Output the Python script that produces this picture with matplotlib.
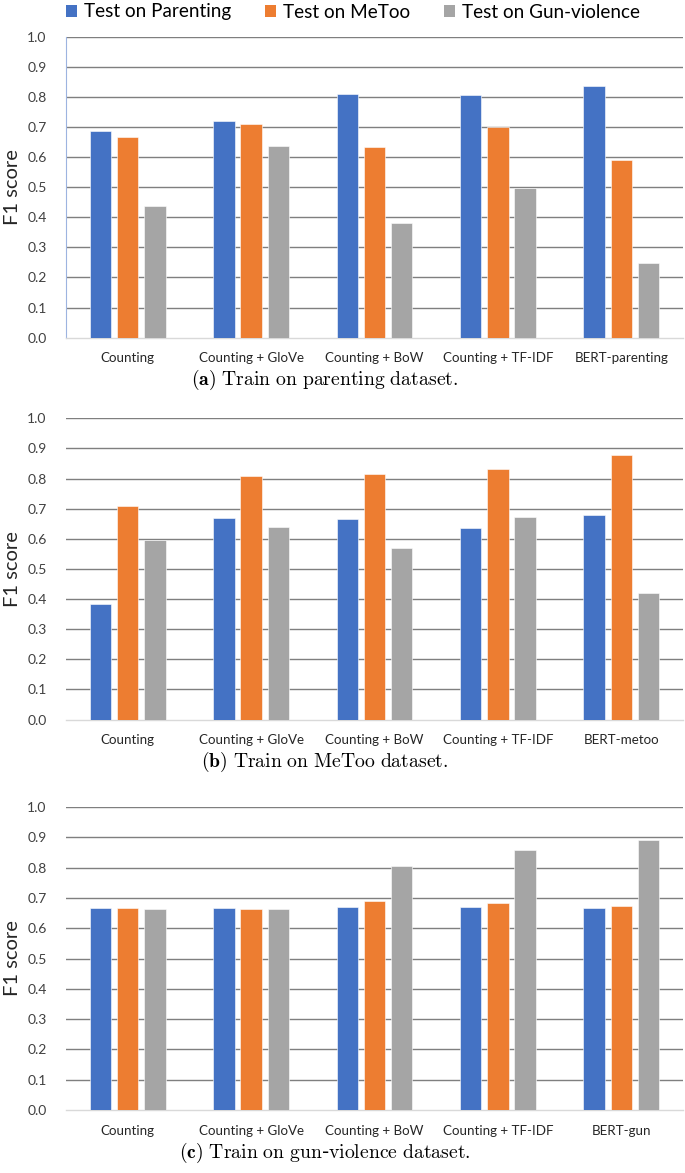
import matplotlib
matplotlib.use("Agg")
import matplotlib.pyplot as plt
import numpy as np
from matplotlib.patches import Patch

plt.rcParams['mathtext.fontset'] = 'cm'

categories_a = ["Counting", "Counting + GloVe", "Counting + BoW", "Counting + TF-IDF", "BERT-parenting"]
categories_b = ["Counting", "Counting + GloVe", "Counting + BoW", "Counting + TF-IDF", "BERT-metoo"]
categories_c = ["Counting", "Counting + GloVe", "Counting + BoW", "Counting + TF-IDF", "BERT-gun"]

series_names = ["Test on Parenting", "Test on MeToo", "Test on Gun-violence"]

# Panel (a): train on parenting
a_parenting = [0.688, 0.721, 0.809, 0.806, 0.836]
a_metoo = [0.665, 0.710, 0.635, 0.699, 0.590]
a_gun = [0.438, 0.638, 0.382, 0.498, 0.248]

# Panel (b): train on MeToo
b_parenting = [0.383, 0.670, 0.665, 0.637, 0.678]
b_metoo = [0.709, 0.807, 0.816, 0.833, 0.879]
b_gun = [0.596, 0.640, 0.569, 0.674, 0.421]

# Panel (c): train on gun-violence
c_parenting = [0.666, 0.666, 0.671, 0.669, 0.668]
c_metoo = [0.666, 0.665, 0.690, 0.682, 0.673]
c_gun = [0.665, 0.665, 0.806, 0.858, 0.892]

captions = [r"$\mathbf{(a)}\ \mathrm{Train\ on\ parenting\ dataset.}$",
            r"$\mathbf{(b)}\ \mathrm{Train\ on\ MeToo\ dataset.}$",
            r"$\mathbf{(c)}\ \mathrm{Train\ on\ gun}$-$\mathrm{violence\ dataset.}$"]

yticks = [0.0, 0.1, 0.2, 0.3, 0.4, 0.5, 0.6, 0.7, 0.8, 0.9, 1.0]
colors = ["#4472C4", "#ED7D31", "#A5A5A5"]

W, H = 685, 1173
fig = plt.figure(figsize=(W / 100, H / 100), dpi=100)

panels = [
    (categories_a, [a_parenting, a_metoo, a_gun], 36.6, 337.7, 380),
    (categories_b, [b_parenting, b_metoo, b_gun], 418.3, 719.6, 762),
    (categories_c, [c_parenting, c_metoo, c_gun], 807.0, 1110.0, 1153),
]

left_px, right_px = 66, 683
bw = 0.173
pitch = 0.221
font = "Lato"

for idx, (cats, series, top_px, bot_px, cap_px) in enumerate(panels):
    ax = fig.add_axes([left_px / W, 1 - bot_px / H, (right_px - left_px) / W, (bot_px - top_px) / H])
    x = np.arange(len(cats))
    for k, (vals, col) in enumerate(zip(series, colors)):
        ax.bar(x + (k - 1) * pitch, vals, width=bw, color=col, edgecolor="white",
               linewidth=0.4, zorder=3, label=series_names[k])
    ax.set_xlim(-0.5, len(cats) - 0.5)
    ax.set_ylim(0, 1.0)
    ax.set_yticks(yticks)
    ax.set_yticklabels([f"{t:.1f}" for t in yticks], fontfamily=font, fontsize=10, color="#404040")
    ax.set_xticks(x)
    ax.set_xticklabels(cats, fontfamily=font, fontsize=9.6, color="#262626")
    ax.tick_params(axis="both", length=0)
    ax.tick_params(axis="y", pad=14)
    ax.tick_params(axis="x", pad=10.5)
    for t in yticks[1:]:
        ax.axhline(t, color="#7f7f7f", lw=1.0, zorder=1)
    for s in ["top", "right", "left"]:
        ax.spines[s].set_visible(False)
    ax.spines["bottom"].set_color("#d9d9d9")
    ax.spines["bottom"].set_linewidth(1.0)
    if idx == 0:
        ax.spines["left"].set_visible(True)
        ax.spines["left"].set_color("#9db4e0")
        ax.spines["left"].set_linewidth(0.8)
    fig.text(13 / W, 1 - (top_px + bot_px) / 2 / H, "F1 score", rotation=90,
             ha="center", va="center", fontsize=14.5, fontfamily=font, color="#262626")
    fig.text(325 / W, 1 - cap_px / H, captions[idx], ha="center", va="center", fontsize=14.2)

handles = [Patch(facecolor=c, edgecolor="none") for c in colors]
fig.legend(handles, series_names, loc="center", bbox_to_anchor=(353 / W, 1 - 12 / H),
           ncol=3, frameon=False, prop={"family": font, "size": 13.6},
           handlelength=0.6, handleheight=0.6, handletextpad=0.35, columnspacing=1.8)

fig.savefig("out.png", dpi=100)
